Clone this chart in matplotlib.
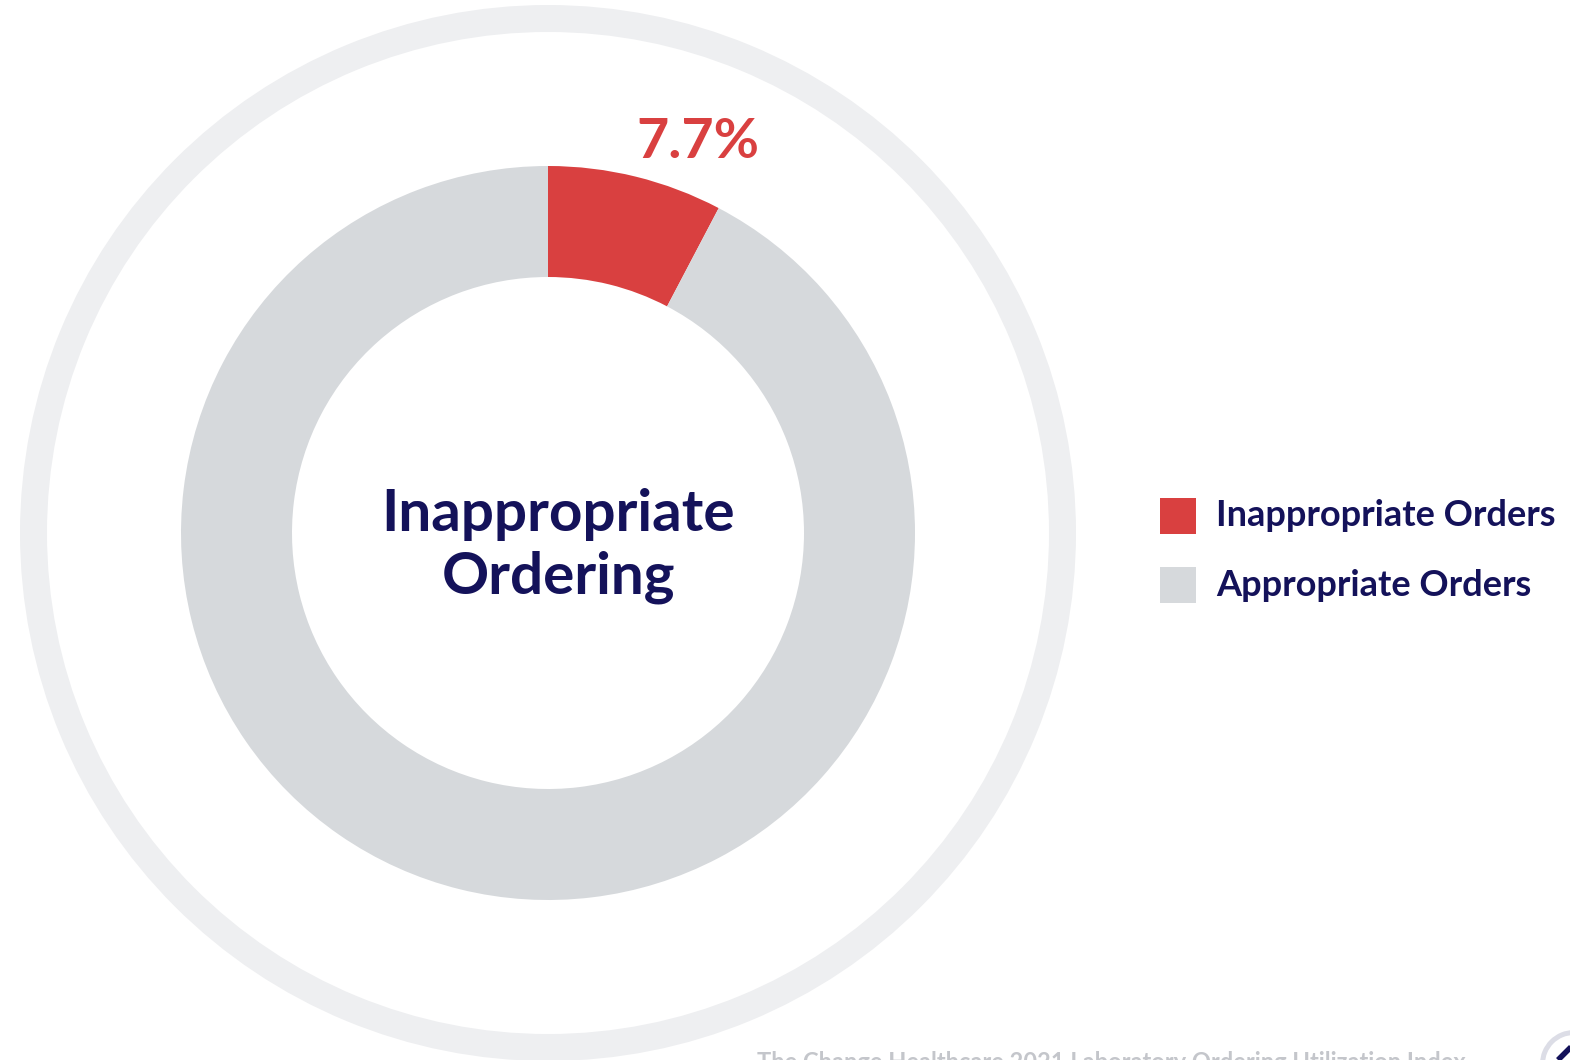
import matplotlib.pyplot as plt
from matplotlib.patches import Wedge, Rectangle

# data
labels = ["Inappropriate Orders", "Appropriate Orders"]
values = [7.7, 92.3]
colors = ["#d94040", "#d6d9dc"]
pct_label = "7.7%"
center_title = "Inappropriate\nOrdering"
footer = "The Change Healthcare 2021 Laboratory Ordering Utilization Index"

navy = "#14125a"
W, H = 1570, 1060

fig = plt.figure(figsize=(W / 100, H / 100), dpi=100)
ax = fig.add_axes([0, 0, 1, 1])

cx, cy = 548, H - 533

# faint outer ring
ax.add_patch(Wedge((cx, cy), 528, 0, 360, width=27, color="#eeeff1", lw=0))

# donut
ax.pie(values, colors=colors, startangle=90, counterclock=False,
       radius=367, center=(cx, cy), wedgeprops=dict(width=111, linewidth=0),
       frame=True)
ax.set_xlim(0, W)
ax.set_ylim(0, H)
ax.set_aspect("equal")
ax.axis("off")

ax.text(cx + 10, H - 546, center_title, ha="center", va="center",
        fontsize=42, fontweight="bold", color=navy, family="Lato",
        linespacing=1.24)
ax.text(698, H - 142, pct_label, ha="center", va="center",
        fontsize=40, fontweight="bold", color=colors[0], family="Lato")

# legend
for i, (lab, col) in enumerate(zip(labels, colors)):
    y = H - 516 - i * 69
    ax.add_patch(Rectangle((1160, y - 18), 36, 36, color=col, lw=0))
    ax.text(1216, y, lab, ha="left", va="center", fontsize=26,
            fontweight="bold", color=navy, family="Lato")

# footer, cut off at bottom edge like the source
ax.text(757, H - 1051, footer, ha="left", va="top", fontsize=17,
        fontweight="bold", color="#c4c6cb", family="Lato")

# logo fragment bottom right
ax.add_patch(Wedge((1574, H - 1064), 34, 0, 360, width=5, color="#dcdde6", lw=0))
ax.plot([1558, 1572], [H - 1060, H - 1046], color=navy, lw=4, solid_capstyle="butt")

fig.savefig("out.png", dpi=100)
